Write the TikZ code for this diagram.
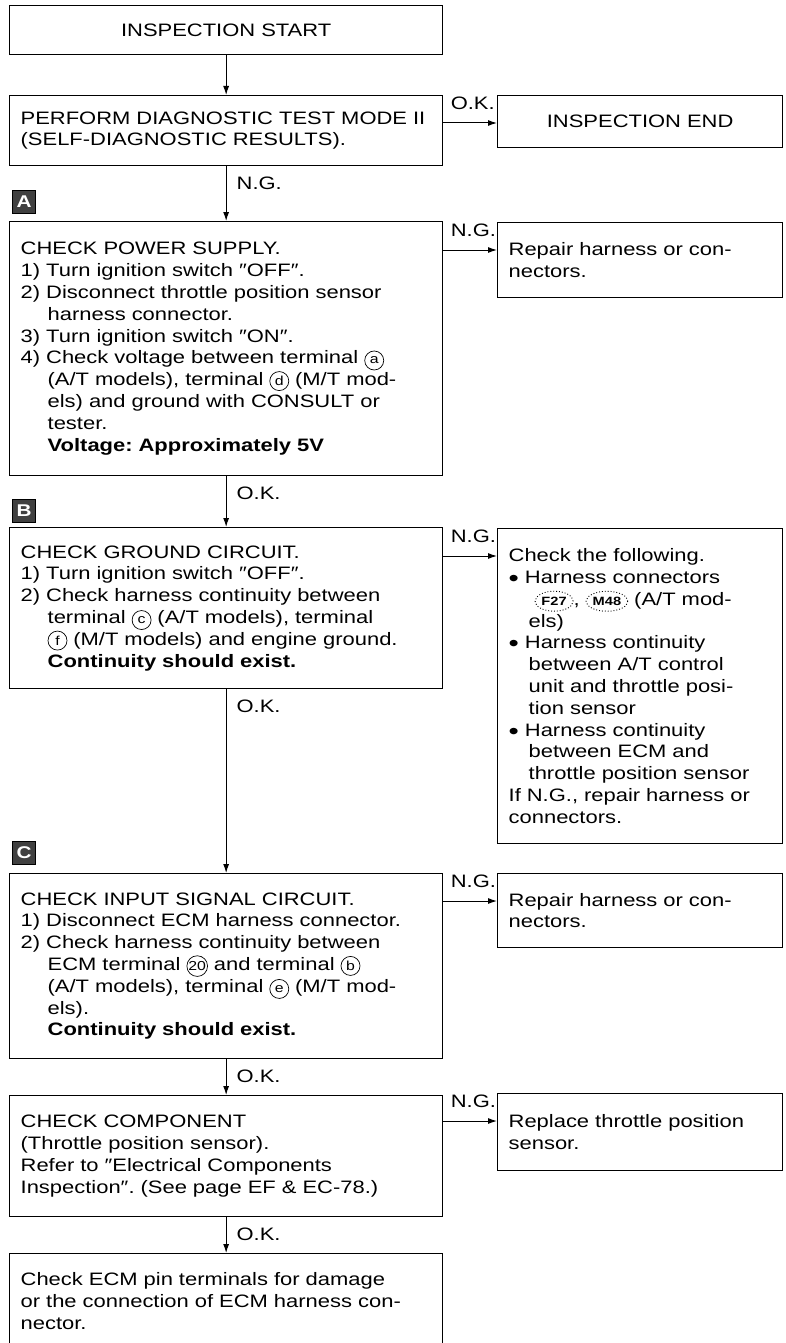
\documentclass[tikz,border=0pt]{standalone}
\usepackage{fontspec}
\setmainfont{Liberation Sans}[FakeStretch=1.22]
\usetikzlibrary{arrows.meta,positioning,calc,shapes.geometric}
\frenchspacing
\newcommand{\tcirc}[1]{\tikz[baseline=(t.base)]\node[circle,draw,line width=.7pt,text width={},align=center,minimum size=19pt,inner sep=.3pt,anchor=center,font=\fontsize{13}{13}\selectfont](t){#1};}
\newcommand{\hconn}[1]{\tikz[baseline=(c.base)]\node[ellipse,draw,dotted,line width=.9pt,text width={},align=center,minimum width=38pt,minimum height=20pt,inner sep=.5pt,anchor=center,font=\fontsize{12}{12}\selectfont\bfseries](c){#1};}
\newcommand{\hin}{\hspace*{27pt}}
\newcommand{\bin}{\hspace*{20pt}}
\newcommand{\bul}{\raisebox{-3pt}{\fontsize{24}{20}\selectfont\textbullet}}

\begin{document}
\begin{tikzpicture}[x=1pt,y=-1pt,font=\fontsize{18}{21.8}\selectfont,
  cbox/.style={draw,line width=1.3pt,anchor=north west,align=left,inner xsep=11pt,inner ysep=0pt,text width=411pt},
  rbox/.style={cbox,text width=263pt},
  arr/.style={line width=1pt,-{Latex[length=9pt,width=6pt]}},
  lbl/.style={inner sep=1pt},
  tag/.style={draw,fill=black!75,text=white,font=\fontsize{17}{17}\selectfont\bfseries,minimum size=23pt,inner sep=0pt}]
\useasboundingbox (0,0) rectangle (785,1343);
\clip (0,0) rectangle (785,1343);

% left column
\node[cbox,align=center,minimum height=49] (start) at (9,5) {INSPECTION START};
\node[cbox,minimum height=70] (perf) at (9,95) {PERFORM DIAGNOSTIC TEST MODE II\\(SELF-DIAGNOSTIC RESULTS).};
\node[tag] (tA) at (24,202) {A};
\node[cbox,minimum height=254] (pwr) at (9,221) {CHECK POWER SUPPLY.\\
1) Turn ignition switch ″OFF″.\\
2) Disconnect throttle position sensor\\
\hin harness connector.\\
3) Turn ignition switch ″ON″.\\
4) Check voltage between terminal \tcirc{a}\\
\hin (A/T models), terminal \tcirc{d} (M/T mod-\\
\hin els) and ground with CONSULT or\\
\hin tester.\\
\hin\textbf{Voltage: Approximately 5V}};
\node[tag] (tB) at (24,511) {B};
\node[cbox,minimum height=161] (gnd) at (9,527) {CHECK GROUND CIRCUIT.\\
1) Turn ignition switch ″OFF″.\\
2) Check harness continuity between\\
\hin terminal \tcirc{c} (A/T models), terminal\\
\hin \tcirc{f} (M/T models) and engine ground.\\
\hin\textbf{Continuity should exist.}};
\node[tag] (tC) at (24,853) {C};
\node[cbox,minimum height=185] (sig) at (9,873) {CHECK INPUT SIGNAL CIRCUIT.\\
1) Disconnect ECM harness connector.\\
2) Check harness continuity between\\
\hin ECM terminal \tcirc{20} and terminal \tcirc{b}\\
\hin (A/T models), terminal \tcirc{e} (M/T mod-\\
\hin els).\\
\hin\textbf{Continuity should exist.}};
\node[cbox,minimum height=121] (comp) at (9,1095) {CHECK COMPONENT\\
(Throttle position sensor).\\
Refer to ″Electrical Components\\
Inspection″. (See page EF \& EC-78.)};
\node[cbox,minimum height=95] (ecm) at (9,1253) {Check ECM pin terminals for damage\\
or the connection of ECM harness con-\\
nector.};

% right column
\node[rbox,align=center,minimum height=52] (insend) at (497,95) {INSPECTION END};
\node[rbox,minimum height=75] (rep1) at (497,222) {Repair harness or con-\\nectors.};
\node[rbox,minimum height=315] (chk) at (497,528) {Check the following.\\
\bul\ Harness connectors\\
\hspace*{26pt}\hconn{F27}, \hconn{M48} (A/T mod-\\
\bin els)\\
\bul\ Harness continuity\\
\bin between A/T control\\
\bin unit and throttle posi-\\
\bin tion sensor\\
\bul\ Harness continuity\\
\bin between ECM and\\
\bin throttle position sensor\\
If N.G., repair harness or\\
connectors.};
\node[rbox,minimum height=74] (rep2) at (497,873) {Repair harness or con-\\nectors.};
\node[rbox,minimum height=77] (repl) at (497,1093) {Replace throttle position\\sensor.};

% connectors
\draw[arr] (start) -- (perf);
\foreach \a/\b/\t in {perf/pwr/N.G.,pwr/gnd/O.K.,gnd/sig/O.K.,sig/comp/O.K.,comp/ecm/O.K.}{
\draw[arr] (\a.south) -- node[lbl,pos=0,below right=9pt and 9pt]{\t} (\b.north);}
\foreach \a/\b/\t in {perf/insend/O.K.,pwr/rep1/N.G.,gnd/chk/N.G.,sig/rep2/N.G.,comp/repl/N.G.}{
\coordinate (\b-in) at ($(\b.north west)+(0,28)$);
\draw[arr] (\a.east |- \b-in) -- node[lbl,pos=0,above right=12pt and 6pt]{\t} (\b-in);}
\end{tikzpicture}
\end{document}
